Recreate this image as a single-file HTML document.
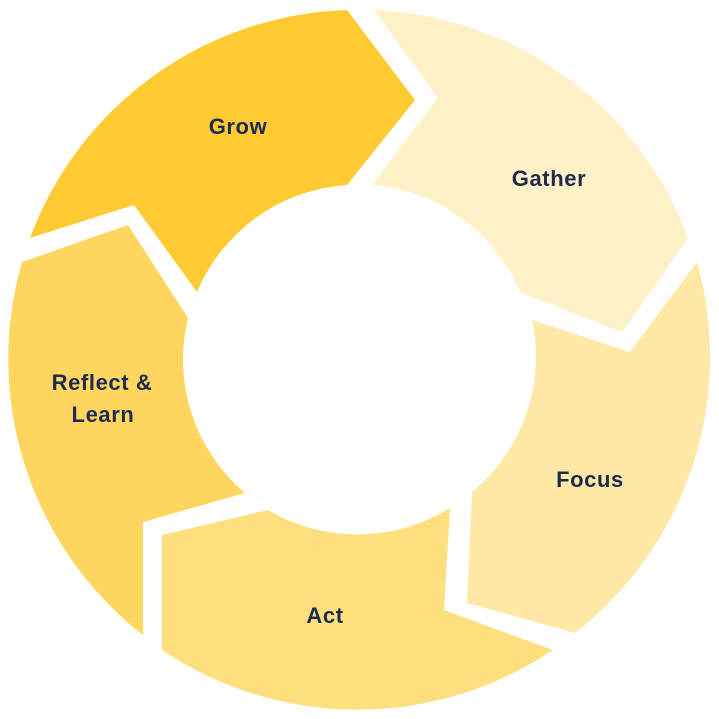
<!DOCTYPE html>
<html><head><style>
html,body{margin:0;padding:0;background:#fff;}
svg{display:block;}
text{font-family:"Liberation Sans",sans-serif;font-weight:bold;font-size:22px;letter-spacing:0.6px;fill:#1f2a4d;text-anchor:middle;dominant-baseline:middle;}
</style></head><body>
<svg width="719" height="719" viewBox="0 0 719 719">
<path fill="#FFCB33" d="M30,238 A350,350 0 0 1 347,10 L415,100 L347,185 A175,175 0 0 0 197,292 L134,205 Z"/>
<path fill="#FEF1C7" d="M374,10 A350,350 0 0 1 688,238 L622,332 L520,292 A175,175 0 0 0 372,185 L438,98 Z"/>
<path fill="#FEE8A6" d="M697,262 A350,350 0 0 1 575,633 L467,603 L472,492 A175,175 0 0 0 532,320 L630,352 Z"/>
<path fill="#FEDF80" d="M553,650 A350,350 0 0 1 162,650 L162,535 L268,510 A175,175 0 0 0 450,508 L444,610 Z"/>
<path fill="#FED65F" d="M143,635 A350,350 0 0 1 22,262 L128,225 L188,318 A175,175 0 0 0 245,493 L143,522 Z"/>
<text x="238" y="128">Grow</text>
<text x="549" y="180">Gather</text>
<text x="590" y="481">Focus</text>
<text x="325" y="617">Act</text>
<text x="102" y="384">Reflect &amp;</text>
<text x="103" y="416">Learn</text>
</svg>
</body></html>
